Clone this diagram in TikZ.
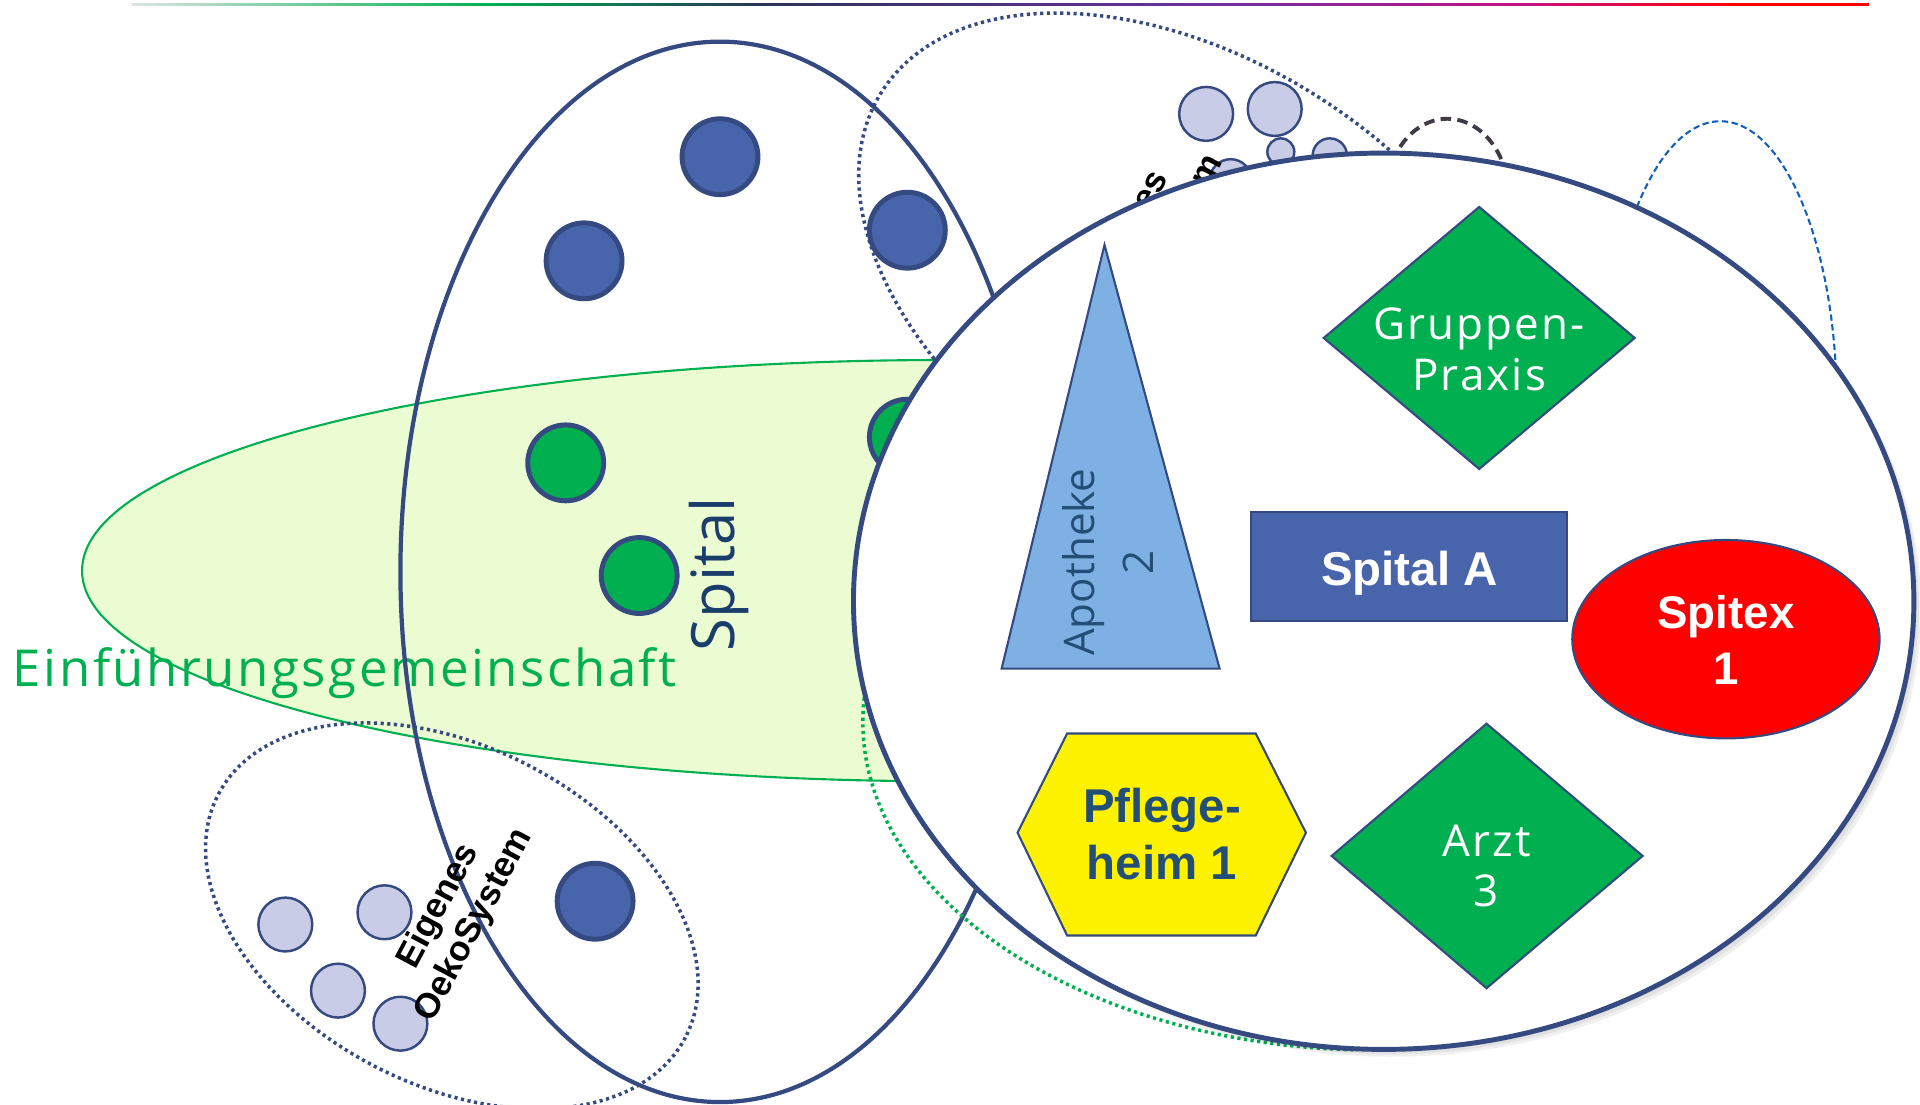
\documentclass[tikz,border=0pt]{standalone}
\usepackage{fontspec}
\setmainfont{Open Sans}
\newfontfamily\midfont{Open Sans}[LetterSpace=5]
\newfontfamily\arialfont{Liberation Sans}
\usepackage{xcolor}
\usepackage{tikz}

\definecolor{hullblue}{RGB}{52,74,128}
\definecolor{spitalblue}{RGB}{72,101,171}
\definecolor{gemgreen}{RGB}{0,176,80}
\definecolor{gemfill}{RGB}{235,252,210}
\definecolor{ecolilac}{RGB}{201,204,230}
\definecolor{labelblue}{RGB}{27,61,107}
\definecolor{textblue}{RGB}{35,78,118}
\definecolor{apoblue}{RGB}{127,176,228}
\definecolor{dashgray}{RGB}{64,58,70}
\definecolor{dashblue}{RGB}{21,96,189}
\definecolor{lineA}{RGB}{218,228,226}
\definecolor{linenavy}{RGB}{42,52,88}
\definecolor{linepurple}{RGB}{112,48,160}
\definecolor{linemagenta}{RGB}{200,16,130}

\begin{document}
\begin{tikzpicture}[x=0.01225cm, y=-0.01225cm,
  hull/.style={draw=hullblue, line width=1.2pt},
  spitdot/.style={fill=spitalblue, draw=hullblue, line width=1.4pt},
  gemdot/.style={fill=gemgreen, draw=hullblue, line width=1.4pt},
  ecodot/.style={fill=ecolilac, draw=hullblue, line width=0.7pt},
  ecoline/.style={draw=hullblue, line width=1pt, dash pattern=on 0.9pt off 1pt},
  boxline/.style={draw=hullblue, line width=0.6pt},
  ecolabel/.style={font=\arialfont\bfseries\fontsize{10}{11.5}\selectfont, align=center, rotate=62, inner sep=0pt},
  thinlabel/.style={font=\midfont\fontsize{12.5}{14.5}\selectfont, text=white, align=center, inner sep=0pt},
  boldlabel/.style={font=\arialfont\bfseries\fontsize{13.5}{16.2}\selectfont, align=center, inner sep=0pt}]
\useasboundingbox (0,0) rectangle (1568,902);
\def\gemeinschaft{(770,466) ellipse [x radius=703, y radius=172]}
\def\spitalhull{(588,467) ellipse [x radius=261, y radius=433]}
\def\hub{(1130,491) ellipse [x radius=433, y radius=366]}

% colour bar on top
\shade[left color=lineA, right color=gemgreen] (108,2.6) rectangle (400,4.8);
\shade[left color=gemgreen, right color=linenavy] (399,2.6) rectangle (620,4.8);
\shade[left color=linenavy, right color=linepurple] (619,2.6) rectangle (1000,4.8);
\shade[left color=linepurple, right color=linemagenta] (999,2.6) rectangle (1250,4.8);
\shade[left color=linemagenta, right color=red] (1249,2.6) rectangle (1421,4.8);
\fill[red] (1420,2.6) rectangle (1526,4.8);

\fill[gemfill] \gemeinschaft;
\draw[gemgreen, line width=0.6pt] \gemeinschaft;
\draw[ecoline, rotate around={-32:(975,235)}] (975,235) ellipse [x radius=301, y radius=186];
\draw[ecoline, rotate around={-27.5:(369,748)}] (369,748) ellipse [x radius=215, y radius=138];
\node[font=\midfont\fontsize{14.5}{17}\selectfont, text=gemgreen, anchor=base west, inner sep=0pt] (einf) at (10,561) {Einführungsgemeinschaft};
\draw[hull] \spitalhull;

\foreach \p in {(588,128),(477,213),(741,188),(486,736)}
  \draw[spitdot] \p circle [radius=31];
\foreach \p in {(462,378),(522,470),(741,357)}
  \draw[gemdot] \p circle [radius=31];
\foreach \p/\r in {(985,93)/22,(1041,89)/22,(1046,124)/11,(1086,127)/14,(1005,147)/17,
                   (233,755)/22,(314,745)/22,(276,809)/22,(327,836)/22}
  \draw[ecodot] \p circle [radius=\r];

\node[font=\fontsize{17}{20}\selectfont, text=labelblue, rotate=90, anchor=base, inner sep=0pt] (spitallabel) at (600,469) {Spital};
\node[ecolabel] (ecobottom) at (373,748) {Eigenes\\OekoSystem};
\node[ecolabel] (ecotop) at (937,198) {Eigenes\\OekoSystem};

\draw[gemgreen, line width=1pt, dash pattern=on 0.9pt off 1pt] (711,543) arc [start angle=190, end angle=92, x radius=418, y radius=268];
\draw[dashgray, line width=1.1pt, dash pattern=on 3pt off 1.8pt] (1182,160) ellipse [x radius=50, y radius=63];
\draw[dashblue, line width=0.6pt, dash pattern=on 1.8pt off 1pt] (1405,330) ellipse [x radius=95, y radius=231];

% the group in front
\foreach \s in {2,4,6}
  \fill[black, opacity=0.06] ([shift={(\s,\s)}]1130,491) ellipse [x radius=433, y radius=366];
\fill[white] \hub;
\draw[hull, line width=1.4pt] \hub;

\draw[boxline, fill=apoblue] (902,200) -- (996,546) -- (818,546) -- cycle;
\node[font=\fontsize{12}{16.7}\selectfont, text=textblue, rotate=90, align=center, inner sep=0pt] (apotheke) at (905,459) {Apotheke\\2};
\draw[boxline, fill=gemgreen] (1208,169) -- (1335,276) -- (1208,383) -- (1081,276) -- cycle;
\node[thinlabel] (gruppenpraxis) at (1208,285) {Gruppen-\\Praxis};
\draw[boxline, fill=spitalblue] (1022,418) rectangle (1280,507);
\node[boldlabel, text=white, anchor=base] (spitalA) at (1151,478) {Spital A};
\draw[boxline, fill=red] (1409.5,522) ellipse [x radius=125.5, y radius=81];
\node[boldlabel, font=\arialfont\bfseries\fontsize{13}{16}\selectfont, text=white] (spitex) at (1409.5,522.5) {Spitex\\1};
\draw[boxline, fill=yellow] (831,680) -- (871.5,599) -- (1025.5,599) -- (1066.5,680) -- (1025.5,764) -- (871.5,764) -- cycle;
\node[boldlabel, text=textblue] (pflegeheim) at (949,681) {Pflege-\\heim 1};
\draw[boxline, fill=gemgreen] (1214,591) -- (1341.5,699) -- (1214,807) -- (1087.5,699) -- cycle;
\node[thinlabel, font=\midfont\fontsize{12.5}{14.2}\selectfont] (arzt) at (1214,707) {Arzt\\3};
\end{tikzpicture}
\end{document}
